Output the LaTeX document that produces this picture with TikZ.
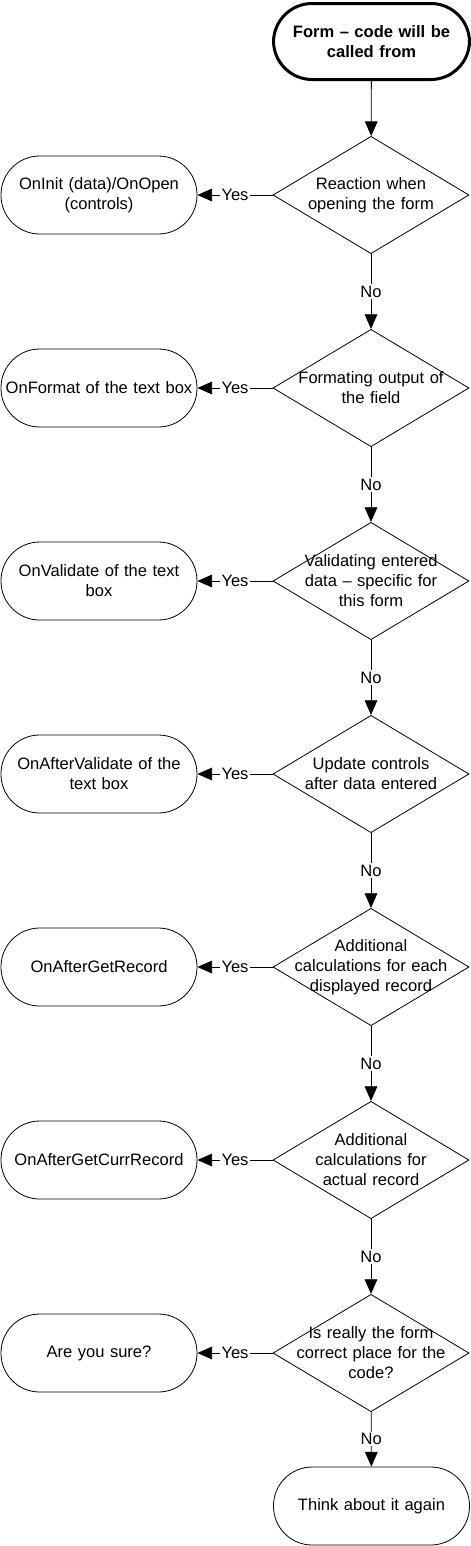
\documentclass[tikz,border=0pt]{standalone}
\usepackage{fontspec}
\setmainfont{Liberation Sans}
\usetikzlibrary{arrows.meta,shapes.geometric}
\tikzset{
  every node/.style={font=\fontsize{12.4}{15}\selectfont},
  terminal/.style={draw,rectangle,rounded corners=29pt,minimum width=147pt,
    minimum height=58.5pt,text width=140pt,align=center,inner sep=0pt,line width=0.6pt},
  decision/.style={draw,diamond,minimum width=147pt,minimum height=88pt,
    inner sep=0pt,line width=0.6pt},
  qtext/.style={text width=150pt,align=center,inner sep=0pt},
  flow/.style={line width=0.6pt,-{Triangle[length=11pt,width=9.5pt]}},
  tag/.style={fill=white,inner sep=1pt}
}

\begin{document}
\begin{tikzpicture}[x=0.75pt,y=0.75pt]
    \useasboundingbox (0,0) rectangle (471,-1546);
    \node[terminal,line width=2.25pt,minimum height=57pt,
      font=\fontsize{12.4}{15}\selectfont\bfseries] (start) at (371.5,-41.5)
      {Form -- code will be\\called from};
    \foreach \i/\q/\a in {
      1/{Reaction when\\opening the form}/{OnInit (data)/OnOpen\\(controls)},
      2/{Formating output of\\the field}/{OnFormat of the text box},
      3/{Validating entered\\data -- specific for\\this form}/{OnValidate of the text\\box},
      4/{Update controls\\after data entered}/{OnAfterValidate of the\\text box},
      5/{Additional\\calculations for each\\displayed record}/{OnAfterGetRecord},
      6/{Additional\\calculations for\\actual record}/{OnAfterGetCurrRecord},
      7/{Is really the form\\correct place for the\\code?}/{Are you sure?}}
    {
      \node[decision] (q\i) at (371,{-195-(\i-1)*193}) {};
      \node[qtext] (t\i) at (q\i) {\q};
      \node[terminal] (a\i) at (99,{-195-(\i-1)*193}) {\a};
      \draw[flow] (q\i) -- node[tag] {Yes} (a\i);
      \ifnum\i>1 \pgfmathtruncatemacro\j{\i-1}
        \draw[flow] (q\j) -- node[tag] {No} (q\i);
      \fi
    }
    \node[terminal] (stop) at (371.5,-1506) {Think about it again};
    \draw[flow] (start) -- (q1);
    \draw[flow] (q7) -- node[tag] {No} (stop);
\end{tikzpicture}
\end{document}
